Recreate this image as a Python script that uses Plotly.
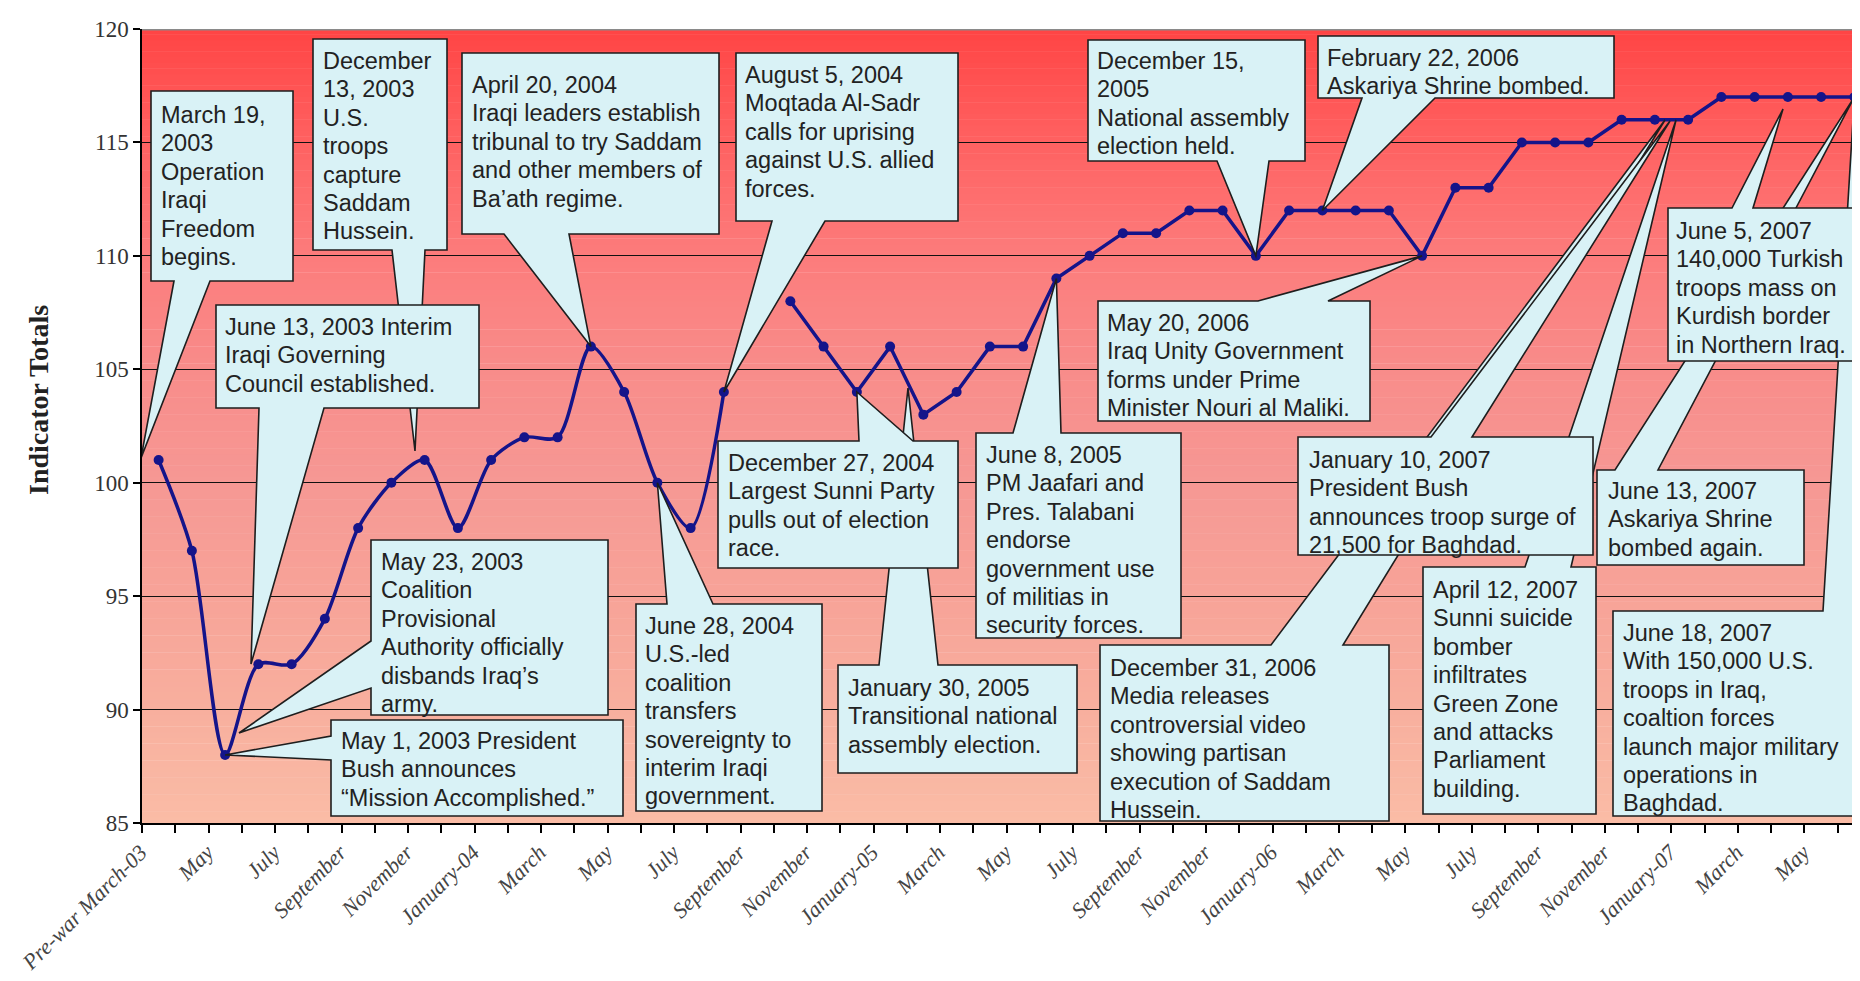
import plotly.graph_objects as go

# ---------------- data ----------------
months = [
    "Pre-war March-03", "April-03", "May-03", "June-03", "July-03", "August-03",
    "September-03", "October-03", "November-03", "December-03",
    "January-04", "February-04", "March-04", "April-04", "May-04", "June-04",
    "July-04", "August-04", "September-04", "October-04", "November-04", "December-04",
    "January-05", "February-05", "March-05", "April-05", "May-05", "June-05",
    "July-05", "August-05", "September-05", "October-05", "November-05", "December-05",
    "January-06", "February-06", "March-06", "April-06", "May-06", "June-06",
    "July-06", "August-06", "September-06", "October-06", "November-06", "December-06",
    "January-07", "February-07", "March-07", "April-07", "May-07", "June-07",
]
values = [
    101, 97, 88, 92, 92, 94, 98, 100, 101, 98,
    101, 102, 102, 106, 104, 100, 98, 104, None, 108, 106, 104,
    106, 103, 104, 106, 106, 109, 110, 111, 111, 112, 112, 110,
    112, 112, 112, 112, 110, 113, 113, 115, 115, 115, 116, 116,
    116, 117, 117, 117, 117, 117,
]
x_tick_labels = [
    "Pre-war March-03", "May", "July", "September", "November", "January-04",
    "March", "May", "July", "September", "November", "January-05",
    "March", "May", "July", "September", "November", "January-06",
    "March", "May", "July", "September", "November", "January-07",
    "March", "May",
]
y_ticks = [85, 90, 95, 100, 105, 110, 115, 120]

# ---------------- layout geometry ----------------
FIG_W, FIG_H = 1860, 981
M_L, M_R, M_T, M_B = 134, 0, 21, 166
X_MIN, X_MAX = -0.5, 51.41
Y_MIN, Y_MAX = 85, 120
PW = FIG_W - M_L - M_R
PH = FIG_H - M_T - M_B


def ax_x(px):
    return X_MIN + (px - M_L) / PW * (X_MAX - X_MIN)


def ax_y(py):
    return Y_MAX - (py - M_T) / PH * (Y_MAX - Y_MIN)


idx = list(range(len(months)))
gap = values.index(None)

NAVY = "#14148a"
fig = go.Figure()
fig.add_trace(go.Scatter(
    x=idx[:gap], y=values[:gap], mode="lines+markers",
    line=dict(color=NAVY, width=3.5, shape="spline", smoothing=0.8),
    marker=dict(color=NAVY, size=10), hoverinfo="skip", showlegend=False))
fig.add_trace(go.Scatter(
    x=idx[gap + 1:], y=values[gap + 1:], mode="lines+markers",
    line=dict(color=NAVY, width=3.5),
    marker=dict(color=NAVY, size=10), hoverinfo="skip", showlegend=False))

# ---------------- gradient background ----------------
stops = [(85, (250, 188, 166)), (90, (248, 175, 158)), (95, (247, 163, 152)),
         (100, (246, 152, 148)), (105, (248, 140, 138)), (110, (252, 124, 124)),
         (113, (254, 108, 108)), (117, (255, 86, 86)), (120, (255, 68, 68))]


def grad(v):
    for (a, ca), (b, cb) in zip(stops[:-1], stops[1:]):
        if a <= v <= b:
            t = (v - a) / (b - a)
            return "rgb(%d,%d,%d)" % tuple(round(ca[i] + (cb[i] - ca[i]) * t) for i in range(3))
    return "rgb(255,68,68)"


shapes = []
step = 0.25
n = int((Y_MAX - Y_MIN) / step)
for k in range(n):
    y0 = Y_MIN + k * step
    shapes.append(dict(type="rect", xref="x", yref="y", x0=X_MIN, x1=X_MAX,
                       y0=y0, y1=y0 + step + 0.02, fillcolor=grad(y0 + step / 2),
                       line=dict(width=0), layer="below"))

shapes.append(dict(type="line", xref="x", yref="y", x0=X_MIN, x1=X_MAX, y0=Y_MAX, y1=Y_MAX,
                   line=dict(color="#8a8a8a", width=3), layer="above"))

# ---------------- callouts ----------------
callouts = [
    dict(box=(143, 83, 285, 273), edge="bottom", base=(166, 202), tip=("px", 133, 450), left=154, first=107,
         lines=["March 19,", "2003", "Operation", "Iraqi", "Freedom", "begins."]),
    dict(box=(305, 31, 439, 242), edge="bottom", base=(384, 417), tip=("px", 407, 443), left=316, first=53,
         lines=["December", "13, 2003", "U.S.", "troops", "capture", "Saddam", "Hussein."]),
    dict(box=(208, 297, 471, 400), edge="bottom", base=(251, 316), tip=("px", 243, 656), left=218, first=319,
         lines=["June 13, 2003 Interim", "Iraqi Governing", "Council established."]),
    dict(box=(454, 45, 711, 226), edge="bottom", base=(496, 561), tip=("pt", 13), left=465, first=77,
         lines=["April 20, 2004", "Iraqi leaders establish", "tribunal to try Saddam",
                "and other members of", "Ba\u2019ath regime."]),
    dict(box=(728, 45, 950, 213), edge="bottom", base=(764, 817), tip=("pt", 17), left=738, first=67,
         lines=["August 5, 2004", "Moqtada Al-Sadr", "calls for uprising", "against U.S. allied", "forces."]),
    dict(box=(363, 532, 600, 707), edge="left", base=(633, 680), tip=("px", 231, 725), left=374, first=554,
         lines=["May 23, 2003", "Coalition", "Provisional", "Authority officially",
                "disbands Iraq\u2019s", "army."]),
    dict(box=(323, 712, 615, 808), edge="left", base=(728, 752), tip=("pt", 2), left=334, first=733,
         lines=["May 1, 2003 President", "Bush announces", "\u201cMission Accomplished.\u201d"]),
    dict(box=(628, 596, 814, 803), edge="top", base=(659, 705), tip=("pt", 15), left=638, first=618,
         lines=["June 28, 2004", "U.S.-led", "coalition", "transfers", "sovereignty to",
                "interim Iraqi", "government."]),
    dict(box=(830, 657, 1069, 765), edge="top", base=(871, 930), tip=("px", 900, 380), left=841, first=680,
         lines=["January 30, 2005", "Transitional national", "assembly election."]),
    dict(box=(710, 433, 950, 560), edge="top", base=(851, 905), tip=("pt", 21), left=721, first=455,
         lines=["December 27, 2004", "Largest Sunni Party", "pulls out of election", "race."]),
    dict(box=(968, 425, 1173, 630), edge="top", base=(1005, 1053), tip=("pt", 27), left=979, first=447,
         lines=["June 8, 2005", "PM Jaafari and", "Pres. Talabani", "endorse", "government use",
                "of militias in", "security forces."]),
    dict(box=(1080, 32, 1297, 153), edge="bottom", base=(1209, 1261), tip=("pt", 33), left=1090, first=53,
         lines=["December 15,", "2005", "National assembly", "election held."]),
    dict(box=(1310, 28, 1606, 90), edge="bottom", base=(1354, 1427), tip=("pt", 35), left=1320, first=50,
         lines=["February 22, 2006", "Askariya Shrine bombed."]),
    dict(box=(1090, 293, 1362, 413), edge="top", base=(1250, 1320), tip=("pt", 38), left=1100, first=315,
         lines=["May 20, 2006", "Iraq Unity Government", "forms under Prime", "Minister Nouri al Maliki."]),
    dict(box=(1092, 637, 1381, 813), edge="top", base=(1263, 1335), tip=("px", 1657, 112), left=1103, first=660,
         lines=["December 31, 2006", "Media releases", "controversial video", "showing partisan",
                "execution of Saddam", "Hussein."]),
    dict(box=(1415, 559, 1588, 806), edge="top", base=(1517, 1563), tip=("px", 1668, 112), left=1426, first=582,
         lines=["April 12, 2007", "Sunni suicide", "bomber", "infiltrates", "Green Zone",
                "and attacks", "Parliament", "building."]),
    dict(box=(1290, 429, 1585, 547), edge="top", base=(1423, 1464), tip=("px", 1662, 113), left=1302, first=452,
         lines=["January 10, 2007", "President Bush", "announces troop surge of", "21,500 for Baghdad."]),
    dict(box=(1589, 462, 1796, 557), edge="top", base=(1607, 1650), tip=("pt", 51), left=1601, first=483,
         lines=["June 13, 2007", "Askariya Shrine", "bombed again."]),
    dict(box=(1605, 603, 1857, 808), edge="top", base=(1815, 1852), tip=("pt", 51), left=1616, first=625,
         lines=["June 18, 2007", "With 150,000 U.S.", "troops in Iraq,", "coaltion forces",
                "launch major military", "operations in", "Baghdad."]),
    dict(box=(1660, 200, 1859, 353), edge="top", base=(1724, 1745), tip=("px", 1775, 101), left=1669, first=223,
         lines=["June 5, 2007", "140,000 Turkish", "troops mass on", "Kurdish border", "in Northern Iraq."]),
]

LINE_GAP = 28.4
annotations = []

for c in callouts:
    x0, y0, x1, y1 = c["box"]
    b0, b1 = c["base"]
    if c["tip"][0] == "pt":
        tip = (idx[c["tip"][1]], values[c["tip"][1]])
    else:
        tip = (ax_x(c["tip"][1]), ax_y(c["tip"][2]))
    X0, X1, Y0, Y1 = ax_x(x0), ax_x(x1), ax_y(y0), ax_y(y1)
    e = c["edge"]
    if e == "top":
        pts = [(X0, Y0), (ax_x(b0), Y0), tip, (ax_x(b1), Y0), (X1, Y0), (X1, Y1), (X0, Y1)]
    elif e == "bottom":
        pts = [(X0, Y0), (X1, Y0), (X1, Y1), (ax_x(b1), Y1), tip, (ax_x(b0), Y1), (X0, Y1)]
    else:  # left
        pts = [(X0, Y0), (X1, Y0), (X1, Y1), (X0, Y1), (X0, ax_y(b1)), tip, (X0, ax_y(b0))]
    path = "M " + " L ".join("%.4f,%.4f" % p for p in pts) + " Z"
    shapes.append(dict(type="path", xref="x", yref="y", path=path,
                       fillcolor="#d9f2f6", line=dict(color="#1e1e1e", width=1.6), layer="above"))
    for i, t in enumerate(c["lines"]):
        annotations.append(dict(
            xref="x", yref="y", x=ax_x(c["left"] - 2), y=ax_y(c["first"] + i * LINE_GAP),
            text=t, showarrow=False, xanchor="left", yanchor="middle", borderpad=0,
            font=dict(family="Liberation Sans, Arial", size=23.5, color="#222222")))

annotations.append(dict(
    xref="paper", yref="y", x=(30 - M_L) / PW, y=ax_y(392), text="Indicator Totals",
    textangle=-90, showarrow=False, xanchor="center", yanchor="middle",
    font=dict(family="Liberation Serif, Times New Roman", size=28, color="#222222", weight="bold")))

fig.update_layout(
    width=FIG_W, height=FIG_H,
    margin=dict(l=M_L, r=M_R, t=M_T, b=M_B, pad=0, autoexpand=False),
    paper_bgcolor="white", plot_bgcolor="white",
    shapes=shapes, annotations=annotations, showlegend=False,
    xaxis=dict(
        range=[X_MIN, X_MAX], tickmode="array", tickvals=idx[::2], ticktext=x_tick_labels,
        tickangle=-45, ticks="", ticklabelstandoff=6, ticklabelshift=-18, automargin=False,
        tickfont=dict(family="Liberation Serif, Times New Roman", size=22, color="#444444", style="italic"),
        showline=True, linecolor="black", linewidth=1.5, showgrid=False, zeroline=False,
        minor=dict(tickmode="array", tickvals=[i - 0.5 for i in range(len(months) + 1)],
                   ticks="outside", ticklen=8, tickcolor="black", tickwidth=1.5, showgrid=False),
    ),
    yaxis=dict(
        range=[Y_MIN, Y_MAX], tickmode="array", tickvals=y_ticks, automargin=False,
        ticks="outside", ticklen=7, tickcolor="black", tickwidth=1.5,
        showline=True, linecolor="black", linewidth=1.5,
        showgrid=True, gridcolor="#111111", gridwidth=1, zeroline=False,
        tickfont=dict(family="Liberation Serif, Times New Roman", size=23, color="#333333"),
    ),
)

fig.write_html("out.html")
